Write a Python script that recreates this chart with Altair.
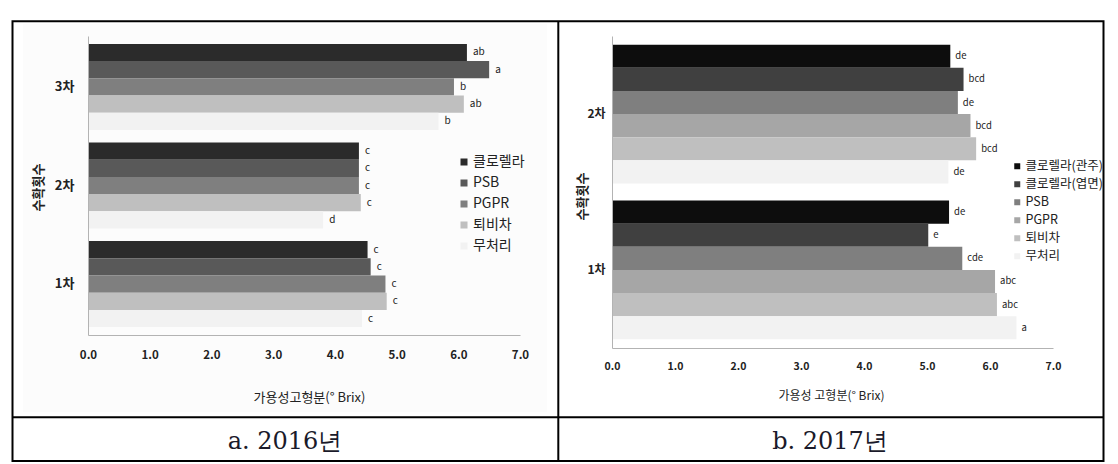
import altair as alt
import pandas as pd

FONT = "Noto Sans CJK KR"
SERIF = "DejaVu Serif"

# ---------------- 2016 data ----------------
rounds_2016 = ["3차", "2차", "1차"]
treatments_2016 = ["클로렐라", "PSB", "PGPR", "퇴비차", "무처리"]
brix_2016_r3 = [6.14, 6.50, 5.93, 6.09, 5.68]
brix_2016_r2 = [4.39, 4.39, 4.39, 4.42, 3.81]
brix_2016_r1 = [4.53, 4.58, 4.82, 4.84, 4.44]
letters_2016_r3 = ["ab", "a", "b", "ab", "b"]
letters_2016_r2 = ["c", "c", "c", "c", "d"]
letters_2016_r1 = ["c", "c", "c", "c", "c"]
colors_2016 = ["#2b2b2b", "#595959", "#7f7f7f", "#bfbfbf", "#f2f2f2"]

# ---------------- 2017 data ----------------
rounds_2017 = ["2차", "1차"]
treatments_2017 = ["클로렐라(관주)", "클로렐라(엽면)", "PSB", "PGPR", "퇴비차", "무처리"]
brix_2017_r2 = [5.37, 5.58, 5.49, 5.69, 5.78, 5.34]
brix_2017_r1 = [5.35, 5.02, 5.56, 6.08, 6.11, 6.42]
letters_2017_r2 = ["de", "bcd", "de", "bcd", "bcd", "de"]
letters_2017_r1 = ["de", "e", "cde", "abc", "abc", "a"]
colors_2017 = ["#0d0d0d", "#404040", "#7f7f7f", "#a6a6a6", "#bfbfbf", "#f2f2f2"]

x_ticks = [0, 1, 2, 3, 4, 5, 6, 7]

rows16 = []
for rnd, vals, lets in [("3차", brix_2016_r3, letters_2016_r3),
                        ("2차", brix_2016_r2, letters_2016_r2),
                        ("1차", brix_2016_r1, letters_2016_r1)]:
    for t, v, l in zip(treatments_2016, vals, lets):
        rows16.append({"round": rnd, "t16": t, "brix": v, "sig": l})
df16 = pd.DataFrame(rows16)

rows17 = []
for rnd, vals, lets in [("2차", brix_2017_r2, letters_2017_r2),
                        ("1차", brix_2017_r1, letters_2017_r1)]:
    for t, v, l in zip(treatments_2017, vals, lets):
        rows17.append({"round": rnd, "t17": t, "brix": v, "sig": l})
df17 = pd.DataFrame(rows17)

one = alt.Data(values=[{"d": 0}])
AXIS_GREY = "#b3b3b3"

# ---------------- left panel (2016) ----------------
W1, H1 = 432, 299

page_bg = alt.Chart(one).mark_rect(color="white").encode(
    x=alt.value(-88), x2=alt.value(1030), y=alt.value(-36), y2=alt.value(428))
panel_bg = alt.Chart(one).mark_rect(color="#fcfcfc").encode(
    x=alt.value(-65), x2=alt.value(459), y=alt.value(-12), y2=alt.value(376))
frame = alt.Chart(one).mark_rect(fill=None, stroke="black", strokeWidth=2).encode(
    x=alt.value(-75.5), x2=alt.value(1015.5), y=alt.value(-14.7), y2=alt.value(425))
mid_v = alt.Chart(one).mark_rule(color="black", strokeWidth=2).encode(
    x=alt.value(470.3), y=alt.value(-14.7), y2=alt.value(425))
mid_h = alt.Chart(one).mark_rule(color="black", strokeWidth=2).encode(
    x=alt.value(-75.5), x2=alt.value(1015.5), y=alt.value(381.3))
cap16 = alt.Chart(one).mark_text(text="a. 2016년", font=SERIF, fontSize=24,
                                 color="#1a1a2a", align="center", baseline="middle").encode(
    x=alt.value(197), y=alt.value(406))

y16 = alt.Y("round:N", sort=rounds_2016,
            scale=alt.Scale(paddingInner=0.127, paddingOuter=0.08),
            axis=alt.Axis(zindex=1, domainColor=AXIS_GREY, ticks=False, labelFont=FONT,
                          labelFontSize=13, labelFontWeight="bold", labelColor="#222",
                          labelPadding=14, title="수확횟수", titleFont=FONT,
                          titleFontSize=13, titleFontWeight="bold", titleColor="#222",
                          titleAngle=270, titleX=-50, titleY=151,
                          titleBaseline="middle", titleAlign="center"))
x16 = alt.X("brix:Q", scale=alt.Scale(domain=[0, 7], nice=False, zero=True),
            axis=alt.Axis(zindex=1, values=x_ticks, format=".1f", grid=False, ticks=False,
                          labelFlush=False,
                          domainColor=AXIS_GREY, labelFont=FONT, labelFontSize=11.5,
                          labelFontWeight="bold", labelColor="#222", labelPadding=14,
                          title="가용성고형분(° Brix)", titleFont=FONT, titleFontSize=13,
                          titleFontWeight="normal", titleColor="#222",
                          titleX=221, titleY=62, titleBaseline="middle",
                          titleAlign="center"))
yoff16 = alt.YOffset("t16:N", sort=treatments_2016,
                     scale=alt.Scale(paddingInner=0, paddingOuter=0))

bars16 = alt.Chart(df16).mark_bar().encode(
    y=y16, x=x16, yOffset=yoff16,
    color=alt.Color("t16:N", sort=treatments_2016,
                    scale=alt.Scale(domain=treatments_2016, range=colors_2016),
                    legend=alt.Legend(orient="none", legendX=369, legendY=119,
                                      title=None, symbolType="square", symbolSize=49,
                                      symbolStrokeWidth=0, labelFont=FONT,
                                      labelFontSize=14, labelColor="#222",
                                      rowPadding=7, padding=0, labelOffset=2)))
text16 = alt.Chart(df16).mark_text(align="left", baseline="middle", dx=6, font=FONT,
                                   fontSize=10, color="#222").encode(
    y=alt.Y("round:N", sort=rounds_2016), x="brix:Q", yOffset=yoff16, text="sig:N")

left = alt.layer(page_bg, panel_bg, bars16, text16, frame, mid_v, mid_h, cap16).properties(
    width=W1, height=H1)

# ---------------- right panel (2017) ----------------
W2, H2 = 441, 312

cap17 = alt.Chart(one).mark_text(text="b. 2017년", font=SERIF, fontSize=24,
                                 color="#1a1a2a", align="center", baseline="middle").encode(
    x=alt.value(218), y=alt.value(406))

y17 = alt.Y("round:N", sort=rounds_2017,
            scale=alt.Scale(paddingInner=0.11, paddingOuter=0.056),
            axis=alt.Axis(zindex=1, domainColor=AXIS_GREY, ticks=False, labelFont=FONT,
                          labelFontSize=12, labelFontWeight="bold", labelColor="#222",
                          labelPadding=7, title="수확횟수", titleFont=FONT,
                          titleFontSize=13, titleFontWeight="bold", titleColor="#222",
                          titleAngle=270, titleX=-30, titleY=160,
                          titleBaseline="middle", titleAlign="center"))
x17 = alt.X("brix:Q", scale=alt.Scale(domain=[0, 7], nice=False, zero=True),
            axis=alt.Axis(zindex=1, values=x_ticks, format=".1f", grid=False, ticks=False,
                          labelFlush=False,
                          domainColor=AXIS_GREY, labelFont=FONT, labelFontSize=10.5,
                          labelFontWeight="bold", labelColor="#222", labelPadding=13,
                          title="가용성 고형분(° Brix)", titleFont=FONT, titleFontSize=12,
                          titleFontWeight="normal", titleColor="#222",
                          titleX=219, titleY=47, titleBaseline="middle",
                          titleAlign="center"))
yoff17 = alt.YOffset("t17:N", sort=treatments_2017,
                     scale=alt.Scale(paddingInner=0, paddingOuter=0))

bars17 = alt.Chart(df17).mark_bar().encode(
    y=y17, x=x17, yOffset=yoff17,
    color=alt.Color("t17:N", sort=treatments_2017,
                    scale=alt.Scale(domain=treatments_2017, range=colors_2017),
                    legend=alt.Legend(orient="none", legendX=399, legendY=124,
                                      title=None, symbolType="square", symbolSize=36,
                                      symbolStrokeWidth=0, labelFont=FONT,
                                      labelFontSize=12.5, labelColor="#222",
                                      rowPadding=5, padding=0, labelOffset=2)))
text17 = alt.Chart(df17).mark_text(align="left", baseline="middle", dx=5, font=FONT,
                                   fontSize=9.5, color="#222").encode(
    y=alt.Y("round:N", sort=rounds_2017), x="brix:Q", yOffset=yoff17, text="sig:N")

right = alt.layer(bars17, text17, cap17).properties(width=W2, height=H2)

chart = alt.hconcat(left, right, spacing=92, bounds="flush").resolve_scale(
    x="independent", y="independent", color="independent", yOffset="independent"
).resolve_legend(color="independent").properties(padding=0).configure_view(stroke=None)

chart.save("out.html", embed_options={"renderer": "svg", "actions": False})
